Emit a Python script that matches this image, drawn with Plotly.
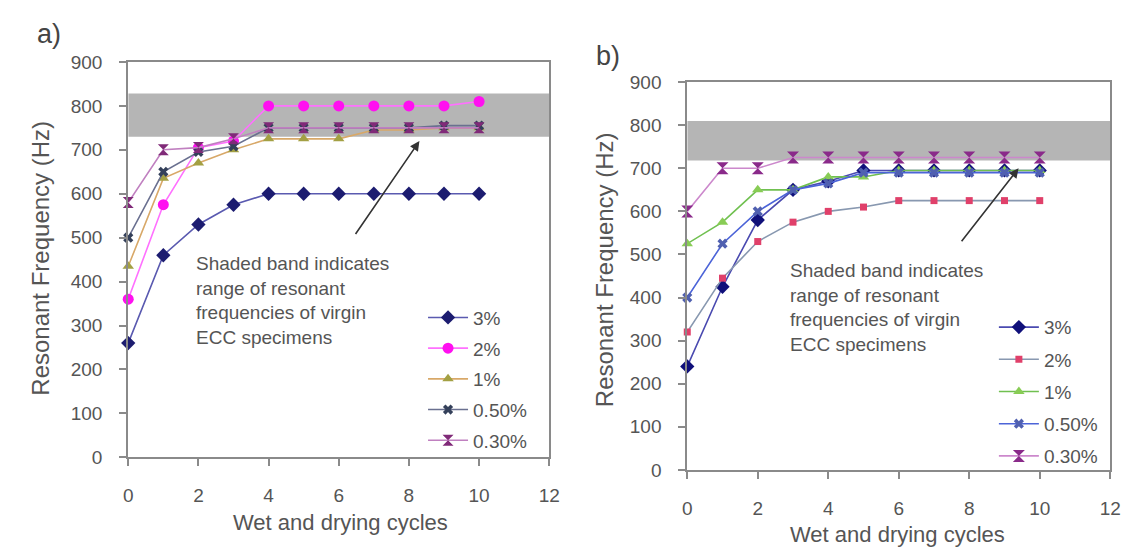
import plotly.graph_objects as go

W, H = 1137, 553
FONT = "Liberation Sans, Arial, sans-serif"

# ---------------- data ----------------
cycles = [0, 1, 2, 3, 4, 5, 6, 7, 8, 9, 10]
series_names = ["3%", "2%", "1%", "0.50%", "0.30%"]

a_3 = [260, 460, 530, 575, 600, 600, 600, 600, 600, 600, 600]
a_2 = [360, 575, 705, 720, 800, 800, 800, 800, 800, 800, 810]
a_1 = [435, 635, 670, 700, 725, 725, 725, 745, 745, 750, 750]
a_05 = [500, 650, 695, 708, 750, 750, 750, 750, 750, 755, 755]
a_03 = [580, 700, 705, 725, 750, 750, 750, 750, 750, 750, 750]
a_band = [730, 828]

b_3 = [240, 425, 580, 650, 670, 695, 695, 695, 695, 695, 695]
b_2 = [320, 445, 530, 575, 600, 610, 625, 625, 625, 625, 625]
b_1 = [525, 575, 650, 650, 680, 680, 695, 695, 695, 695, 695]
b_05 = [400, 525, 600, 650, 665, 690, 690, 690, 690, 690, 690]
b_03 = [600, 700, 700, 725, 725, 725, 725, 725, 725, 725, 725]
b_band = [718, 810]

x_range = [0, 12]
y_range = [0, 900]
band_text = "Shaded band indicates<br>range of resonant<br>frequencies of virgin<br>ECC specimens"
x_title = "Wet and drying cycles"
y_title = "Resonant Frequency (Hz)"

# arrows: (tail x, tail y, head x, head y) in data units
a_arrow = [6.45, 505, 8.3, 720]
b_arrow = [7.75, 527, 9.4, 700]


def PX(p):
    return p / W


def PY(p):
    return 1 - p / H


# ---------------- styles ----------------
a_styles = [
    dict(line="#5a5ab0", mc="#1c1c70", sym="diamond", size=11),
    dict(line="#ff70ff", mc="#ff10f0", sym="circle", size=11),
    dict(line="#d8a868", mc="#a3a043", sym="triangle-up", size=10),
    dict(line="#6a7090", mc="#34405a", sym="x", size=9),
    dict(line="#c080c0", mc="#802a78", sym="hourglass", size=11),
]
b_styles = [
    dict(line="#4a4ab0", mc="#10107a", sym="diamond", size=11),
    dict(line="#8898b0", mc="#e0406a", sym="square", size=7),
    dict(line="#70c050", mc="#88cc55", sym="triangle-up", size=10),
    dict(line="#4c64d8", mc="#5060b0", sym="x", size=9),
    dict(line="#cc88cc", mc="#8a2a8a", sym="hourglass", size=12),
]

fig = go.Figure()

a_data = [a_3, a_2, a_1, a_05, a_03]
b_data = [b_3, b_2, b_1, b_05, b_03]

for i, (name, ys, st) in enumerate(zip(series_names, a_data, a_styles)):
    fig.add_trace(go.Scatter(
        x=cycles, y=ys, name=name, mode="lines+markers",
        xaxis="x", yaxis="y", legend="legend", legendgroup="a%d" % i,
        line=dict(color=st["line"], width=1.6),
        marker=dict(color=st["mc"], symbol=st["sym"], size=st["size"],
                    line=dict(width=0)),
        cliponaxis=False,
    ))

for i, (name, ys, st) in enumerate(zip(series_names, b_data, b_styles)):
    fig.add_trace(go.Scatter(
        x=cycles, y=ys, name=name, mode="lines+markers",
        xaxis="x2", yaxis="y2", legend="legend2", legendgroup="b%d" % i,
        line=dict(color=st["line"], width=1.6),
        marker=dict(color=st["mc"], symbol=st["sym"], size=st["size"],
                    line=dict(width=0)),
        cliponaxis=False,
    ))

# shaded bands
fig.add_shape(type="rect", xref="x", yref="y", x0=x_range[0], x1=x_range[1],
              y0=a_band[0], y1=a_band[1], fillcolor="#b5b5b5",
              line=dict(width=0), layer="below")
fig.add_shape(type="rect", xref="x2", yref="y2", x0=x_range[0], x1=x_range[1],
              y0=b_band[0], y1=b_band[1], fillcolor="#b5b5b5",
              line=dict(width=0), layer="below")

axis_common = dict(
    showline=True, linecolor="#8a8a8a", linewidth=2, mirror=True,
    ticks="outside", ticklen=7, tickwidth=2, tickcolor="#8a8a8a",
    showgrid=False, zeroline=False, ticklabelstandoff=13,
    tickfont=dict(family=FONT, size=19, color="#555555"),
)

fig.update_layout(
    width=W, height=H,
    margin=dict(l=0, r=0, t=0, b=0),
    paper_bgcolor="white", plot_bgcolor="white",
    font=dict(family=FONT, color="#555555"),
    xaxis=dict(domain=[PX(125), PX(552)], range=x_range, dtick=2,
               anchor="y", **axis_common),
    yaxis=dict(domain=[PY(465), PY(54)], range=y_range, dtick=100,
               anchor="x", **axis_common),
    xaxis2=dict(domain=[PX(692), PX(1121)], range=x_range, dtick=2,
                anchor="y2", **axis_common),
    yaxis2=dict(domain=[PY(478), PY(75)], range=y_range, dtick=100,
                anchor="x2", **axis_common),
    legend=dict(x=PX(424), y=PY(300), xanchor="left", yanchor="top",
                bgcolor="rgba(0,0,0,0)", tracegroupgap=3, itemwidth=40,
                font=dict(family=FONT, size=19, color="#555555")),
    legend2=dict(x=PX(1003), y=PY(310), xanchor="left", yanchor="top",
                 bgcolor="rgba(0,0,0,0)", tracegroupgap=4.5, itemwidth=40,
                 font=dict(family=FONT, size=19, color="#555555")),
    showlegend=True,
)

ann = []
# panel labels
ann.append(dict(text="a)", x=PX(30), y=PY(25), xref="paper", yref="paper",
                xanchor="left", yanchor="middle", showarrow=False,
                font=dict(family=FONT, size=27, color="#444444")))
ann.append(dict(text="b)", x=PX(597), y=PY(48), xref="paper", yref="paper",
                xanchor="left", yanchor="middle", showarrow=False,
                font=dict(family=FONT, size=27, color="#444444")))
# axis titles
ann.append(dict(text=x_title, x=PX(340), y=PY(533), xref="paper", yref="paper",
                xanchor="center", yanchor="middle", showarrow=False,
                font=dict(family=FONT, size=22, color="#555555")))
ann.append(dict(text=x_title, x=PX(905), y=PY(530), xref="paper", yref="paper",
                xanchor="center", yanchor="top", showarrow=False,
                font=dict(family=FONT, size=22, color="#555555")))
ann.append(dict(text=y_title, x=PX(36), y=PY(258), xref="paper", yref="paper",
                xanchor="center", yanchor="middle", showarrow=False, textangle=-90,
                font=dict(family=FONT, size=24, color="#555555")))
ann.append(dict(text=y_title, x=PX(608), y=PY(270), xref="paper", yref="paper",
                xanchor="center", yanchor="middle", showarrow=False, textangle=-90,
                font=dict(family=FONT, size=24, color="#555555")))
# band text
ann.append(dict(text=band_text, x=PX(192), y=PY(251), xref="paper", yref="paper",
                xanchor="left", yanchor="top", align="left", showarrow=False,
                font=dict(family=FONT, size=19, color="#555555")))
ann.append(dict(text=band_text, x=PX(794), y=PY(258), xref="paper", yref="paper",
                xanchor="left", yanchor="top", align="left", showarrow=False,
                font=dict(family=FONT, size=19, color="#555555")))
# arrows
ann.append(dict(text="", x=a_arrow[2], y=a_arrow[3], ax=a_arrow[0], ay=a_arrow[1],
                xref="x", yref="y", axref="x", ayref="y", showarrow=True,
                arrowhead=2, arrowsize=1.2, arrowwidth=1.6, arrowcolor="#333333"))
ann.append(dict(text="", x=b_arrow[2], y=b_arrow[3], ax=b_arrow[0], ay=b_arrow[1],
                xref="x2", yref="y2", axref="x2", ayref="y2", showarrow=True,
                arrowhead=2, arrowsize=1.2, arrowwidth=1.6, arrowcolor="#333333"))

fig.update_layout(annotations=ann)

fig.write_html("out.html")
